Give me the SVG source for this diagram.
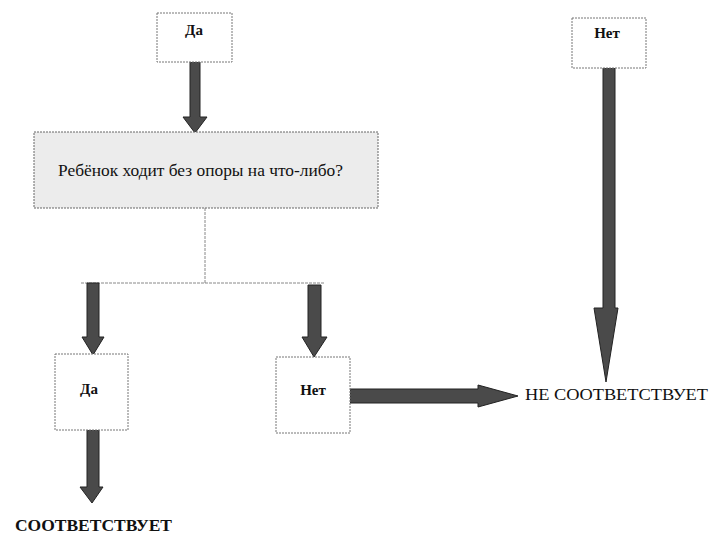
<svg xmlns="http://www.w3.org/2000/svg" width="714" height="536" viewBox="0 0 714 536">
<style>
.box{fill:#fff;stroke:#777;stroke-width:1;stroke-dasharray:2 1}
.qbox{fill:#ececec;stroke:#666;stroke-width:1;stroke-dasharray:2 1}
text{font-family:'Liberation Serif','DejaVu Serif',serif;fill:#111}
.lbl{font-weight:bold;font-size:15px;text-anchor:middle}
.q{font-size:16px}
.out{font-weight:bold;font-size:16px}
.arr{fill:#4a4a4a;stroke:#222;stroke-width:1}
.thin{fill:none;stroke:#888;stroke-width:1;stroke-dasharray:3 1}
</style>
<rect width="714" height="536" fill="#fff"/>
<g id="connectors">
<path class="thin" d="M205,208 V283 M81,283 H325"/>
<polygon class="arr" points="190,62 200,62 200,117 207,117 195,133 183,117 190,117"/>
<polygon class="arr" points="87,283 99,283 99,337 104,337 93,355 82,337 87,337"/>
<polygon class="arr" points="308,285 321,285 321,337 327,337 314,357 302,337 308,337"/>
<polygon class="arr" points="87,430 99,430 99,487 103,487 92,503 80,487 87,487"/>
<polygon class="arr" points="350,389 478,389 478,385 518,396 478,407 478,403 350,403"/>
<polygon class="arr" points="603,68 615,68 615,308 618,308 606,382 594,308 603,308"/>
</g>
<g id="node-da-top">
<rect class="box" x="157" y="13" width="75" height="49"/>
<text class="lbl" x="194" y="35" font-family="Liberation Serif, serif">Да</text>
</g>
<g id="node-question">
<rect class="qbox" x="34" y="132" width="344" height="76"/>
<text class="q" x="58" y="176" textLength="285" lengthAdjust="spacingAndGlyphs">Ребёнок ходит без опоры на что-либо?</text>
</g>
<g id="node-da-left">
<rect class="box" x="55" y="354" width="73" height="76"/>
<text class="lbl" x="89" y="394">Да</text>
</g>
<g id="node-net-mid">
<rect class="box" x="276" y="357" width="74" height="76"/>
<text class="lbl" x="313" y="395">Нет</text>
</g>
<g id="node-net-top">
<rect class="box" x="572" y="18" width="74" height="50"/>
<text class="lbl" x="607" y="38">Нет</text>
</g>
<g id="node-sootv">
<text class="out" x="15" y="531" textLength="157" lengthAdjust="spacingAndGlyphs">СООТВЕТСТВУЕТ</text>
</g>
<g id="node-ne-sootv">
<text class="q" x="525" y="400" textLength="183" lengthAdjust="spacingAndGlyphs">НЕ СООТВЕТСТВУЕТ</text>
</g>
</svg>
